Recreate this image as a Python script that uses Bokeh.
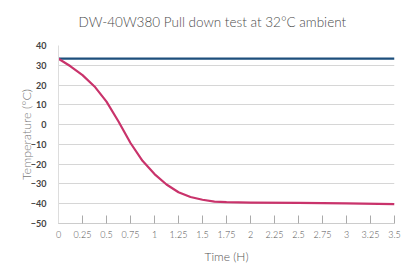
from bokeh.plotting import figure
from bokeh.models import FixedTicker, Range1d
from bokeh.embed import file_html
from bokeh.resources import INLINE

# Data
time_h = [0, 0.125, 0.25, 0.375, 0.5, 0.625, 0.75, 0.875, 1.0, 1.125, 1.25,
          1.375, 1.5, 1.625, 1.75, 2.0, 2.5, 3.0, 3.5]
temp_c = [33.3, 29.5, 25.0, 19.3, 11.6, 1.6, -9.3, -18.3, -25.0, -30.3, -34.2,
          -36.6, -38.0, -38.9, -39.2, -39.4, -39.6, -39.8, -40.2]
ambient_t = [0, 3.5]
ambient_c = [33.4, 33.4]

x_ticks = [0, 0.25, 0.5, 0.75, 1, 1.25, 1.5, 1.75, 2, 2.25, 2.5, 2.75, 3, 3.25, 3.5]
x_tick_labels = ["0", "0.25", "0.5", "0.75", "1", "1.25", "1.5", "1.75", "2",
                 "2.25", "2.5", "2.75", "3", "3.25", "3.5"]
y_ticks = [-50, -40, -30, -20, -10, 0, 10, 20, 30, 40]

FONT = "Lato"

p = figure(width=404, height=268, output_backend="svg", toolbar_location=None,
           x_range=Range1d(0, 3.5), y_range=Range1d(-50, 40),
           min_border_left=58, min_border_right=10, min_border_top=44,
           min_border_bottom=45)

p.title.text = "DW-40W380 Pull down test at 32°C ambient"
p.title.align = "left"
p.title.offset = 20
p.title.text_font = "Lato Light"
p.title.text_font_size = "13.5px"
p.title.text_font_style = "normal"
p.title.text_color = "#4a4a4a"
p.title.vertical_align = "top"
p.title.standoff = 27

p.outline_line_color = None
p.background_fill_color = "white"
p.border_fill_color = "white"

# grid
p.xgrid.grid_line_color = None
p.ygrid.grid_line_color = "#d6d6d6"
p.ygrid.grid_line_width = 1.2

# x axis
p.xaxis.ticker = FixedTicker(ticks=x_ticks)
p.xaxis.major_label_overrides = {t: l for t, l in zip(x_ticks, x_tick_labels)}
p.xaxis.axis_label = "Time (H)"
p.xaxis.axis_label_text_font = "Lato Light"
p.xaxis.axis_label_text_font_size = "12px"
p.xaxis.axis_label_text_font_style = "normal"
p.xaxis.axis_label_text_color = "#555555"
p.xaxis.axis_label_standoff = 8
p.xaxis.major_label_text_font = "Lato Light"
p.xaxis.major_label_text_font_size = "9px"
p.xaxis.major_label_text_color = "#555555"
p.xaxis.major_label_standoff = 7
p.xaxis.axis_line_color = "#cccccc"
p.xaxis.major_tick_line_color = "#aaaaaa"
p.xaxis.major_tick_in = 8
p.xaxis.major_tick_out = 0
p.xaxis.minor_tick_line_color = None

# y axis
p.yaxis.ticker = FixedTicker(ticks=y_ticks)
p.yaxis.axis_label = "Temperature (°C)"
p.yaxis.axis_label_text_font = "Lato Light"
p.yaxis.axis_label_text_font_size = "12.5px"
p.yaxis.axis_label_text_font_style = "normal"
p.yaxis.axis_label_text_color = "#777777"
p.yaxis.axis_label_standoff = -6
p.yaxis.major_label_text_font = FONT
p.yaxis.major_label_text_font_size = "9px"
p.yaxis.major_label_text_font_style = "bold"
p.yaxis.major_label_text_color = "#444444"
p.yaxis.major_label_standoff = 6
p.yaxis.axis_line_color = "#dddddd"
p.yaxis.major_tick_line_color = None
p.yaxis.minor_tick_line_color = None

p.line(ambient_t, ambient_c, line_color="#1d4f7c", line_width=2.2)
p.line(time_h, temp_c, line_color="#c9336b", line_width=2.2,
       line_join="round")

open("out.html", "w").write(file_html(p, INLINE))
